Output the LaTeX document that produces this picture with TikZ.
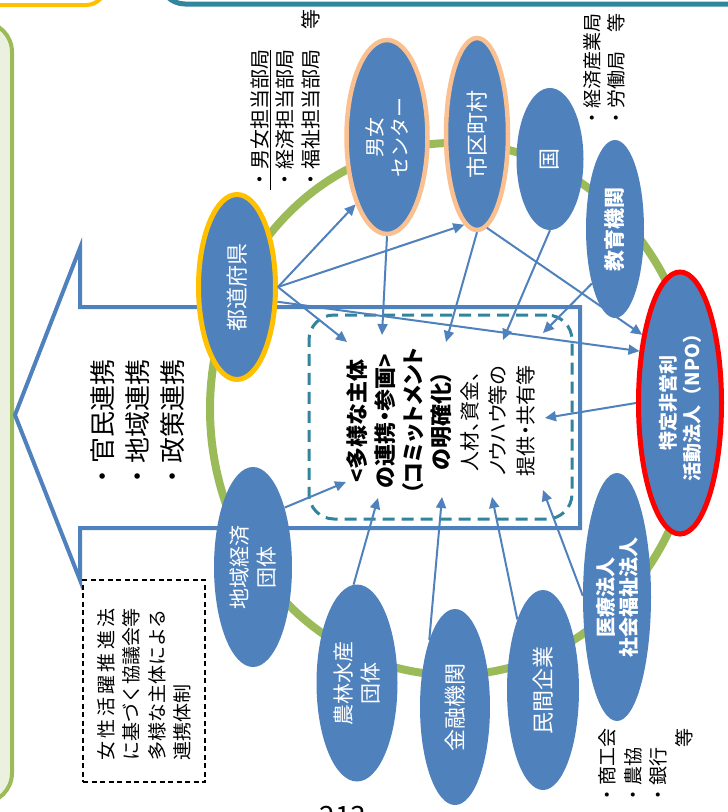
\documentclass[tikz,border=0pt]{standalone}
\usepackage{fontspec}
\setmainfont{Noto Sans CJK JP}
\newfontfamily\pjp{Noto Sans CJK JP}[RawFeature=+palt]
\usetikzlibrary{shapes.geometric,arrows.meta,calc}
\definecolor{eblue}{HTML}{4F81BD}
\definecolor{ygold}{HTML}{FFC000}
\definecolor{peach}{HTML}{FAC090}
\definecolor{ringgreen}{HTML}{9BBB59}
\definecolor{boxgreen}{HTML}{EBF1DE}
\definecolor{tealc}{HTML}{31859C}
\definecolor{dteal}{HTML}{31849B}
\tikzset{
  ell/.style={ellipse, fill=eblue, inner sep=0pt},
  wl/.style={rotate=90, text=white, align=center, inner sep=0pt},
  blk/.style={rotate=90, text=black, align=left, inner sep=0pt},
  conn/.style={draw=eblue, line width=2pt, -{Triangle[length=11pt,width=10pt]}},
}
\begin{document}
\begin{tikzpicture}[x=1pt,y=-1pt]
\useasboundingbox (0,0) rectangle (728,812);
\clip (0,0) rectangle (728,812);
% frames
\draw[draw=ringgreen, fill=boxgreen, line width=4pt, rounded corners=30pt] (-60,22) rectangle (12,803);
\draw[ygold, line width=4pt, rounded corners=20pt] (-60,-60) rectangle (106,5);
\draw[tealc, line width=5pt, rounded corners=25pt] (160,-60) rectangle (800,4);
% big arrow
\draw[eblue, line width=4pt, fill=white, line join=miter] (15,415) -- (80,248) -- (80,307) -- (580,307) -- (580,528) -- (80,528) -- (80,580) -- cycle;
% ring
\draw[ringgreen, line width=8pt] (453,409) ellipse [x radius=243pt, y radius=266pt];
% hub
\node[draw=dteal, line width=3pt, dash pattern=on 12pt off 7pt, rounded corners=25pt, minimum width=263pt, minimum height=204pt, inner sep=0pt] (hub) at (440.5,417) {};
% law box
\node[draw=black, line width=1.5pt, dash pattern=on 5pt off 3.5pt, minimum width=122pt, minimum height=202pt, inner sep=0pt] (lawbox) at (144,681) {};
% ellipses
\node[ell, draw=ygold, line width=5pt, minimum width=77pt, minimum height=185pt] (pref) at (237,287) {};
\node[ell, draw=peach, line width=4.5pt, minimum width=81pt, minimum height=194pt] (danjo) at (387,137) {};
\node[ell, draw=peach, line width=4.5pt, minimum width=62pt, minimum height=192pt] (shiku) at (477,134) {};
\node[ell, minimum width=67pt, minimum height=142pt] (kuni) at (550,159) {};
\node[ell, minimum width=58pt, minimum height=178pt] (kyoiku) at (615,229) {};
\node[ell, draw=red, line width=5pt, minimum width=83pt, minimum height=262pt] (npo) at (680,403) {};
\node[ell, minimum width=78pt, minimum height=200pt] (chiiki) at (253,567) {};
\node[ell, minimum width=81pt, minimum height=197pt] (norin) at (357,683) {};
\node[ell, minimum width=70pt, minimum height=196pt] (kinyu) at (455,707) {};
\node[ell, minimum width=72pt, minimum height=200pt] (minkan) at (543,690) {};
\node[ell, minimum width=68pt, minimum height=248pt] (iryo) at (617,597) {};
% ellipse texts
\node[wl, font=\fontsize{22}{26}\selectfont] (preft) at (pref) {都道府県};
\node[wl, font=\fontsize{20}{25}\selectfont] (danjot) at (danjo) {男女\\センター};
\node[wl, font=\fontsize{22}{26}\selectfont] (shikut) at (shiku) {市区町村};
\node[wl, font=\fontsize{22}{26}\selectfont] (kunit) at (kuni) {国};
\node[wl, font=\bfseries\fontsize{21}{26}\selectfont] (kyoikut) at (kyoiku) {教育機関};
\node[wl, font=\bfseries\fontsize{19}{24}\selectfont] (npot) at (npo) {特定非営利\\活動法人（NPO）};
\node[wl, font=\fontsize{21}{27}\selectfont] (chiikit) at (chiiki) {地域経済\\団体};
\node[wl, font=\fontsize{21}{27}\selectfont] (norint) at (norin) {農林水産\\団体};
\node[wl, font=\fontsize{22}{26}\selectfont] (kinyut) at (kinyu) {金融機関};
\node[wl, font=\fontsize{22}{26}\selectfont] (minkant) at (minkan) {民間企業};
\node[wl, font=\bfseries\fontsize{20}{23}\selectfont] (iryot) at (iryo) {医療法人\\社会福祉法人};
% hub text
\node[rotate=90, align=center, inner sep=0pt, font=\pjp\fontsize{20}{28}\selectfont] (hubtxt) at (441,421)
 {{\bfseries\fontsize{22}{28}\selectfont <多様な主体}\\{\bfseries\fontsize{22}{28}\selectfont の連携・参画>}\\{\bfseries\fontsize{22}{28}\selectfont （コミットメント}\\{\bfseries\fontsize{22}{28}\selectfont の明確化）}\\人材、資金、\\ノウハウ等の\\提供・共有等};
% other texts
\node[blk, font=\fontsize{26}{35}\selectfont, anchor=north west] (coop) at (90,490) {・官民連携\\・地域連携\\・政策連携};
\node[blk, font=\fontsize{19}{25.3}\selectfont, anchor=north west] (lawtxt) at (97.5,761)
 {\makebox[152pt][s]{女\hfil 性\hfil 活\hfil 躍\hfil 推\hfil 進\hfil 法}\\に基づく協議会等\\多様な主体による\\連携体制};
\node[blk, font=\fontsize{20}{25.5}\selectfont, anchor=north west] (deptlbl) at (250,190) {\underline{・男女担当部局}\\・経済担当部局\\・福祉担当部局　等};
\node[blk, font=\fontsize{19}{24}\selectfont, anchor=north west] (metilbl) at (583.5,128) {・経済産業局\\・労働局　等};
\node[blk, font=\fontsize{19}{25.5}\selectfont, anchor=north west] (orglbl) at (598.5,805) {・商工会\\・農協\\・銀行\\\hspace*{57pt}等};
\node[inner sep=0pt, font=\fontsize{28}{30}\selectfont] (pgno) at (343,817) {213};
% connector ends
\coordinate (h1) at (347,342);
\coordinate (h2) at (382,335);
\coordinate (h3) at (446,342);
\coordinate (h4) at (503,340);
\coordinate (h5) at (543,333);
\coordinate (h6) at (545,418);
\coordinate (h7) at (346,482);
\coordinate (h8) at (378,498);
\coordinate (h9) at (442,497);
\coordinate (h10) at (492,497);
\coordinate (h11) at (543,490);
% connectors
\draw[conn] (pref.east) -- (danjo.245);
\draw[conn] (pref.east) -- (shiku.262);
\draw[conn] (pref.east) -- (h1);
\draw[conn] (pref.-20) -- (npo.128);
\draw[conn] (shiku.-84) -- (npo.119);
\draw[conn] (danjo.south) -- (h2);
\draw[conn] (shiku.south) -- (h3);
\draw[conn] (kuni.south) -- (h4);
\draw[conn] (kyoiku.247) -- (h5);
\draw[conn] (npo.west) -- (h6);
\draw[conn] (chiiki.62) -- (h7);
\draw[conn] (norin.92) -- (h8);
\draw[conn] (kinyu.111) -- (h9);
\draw[conn] (minkan.110) -- (h10);
\draw[conn] (iryo.178) -- (h11);
\end{tikzpicture}
\end{document}
